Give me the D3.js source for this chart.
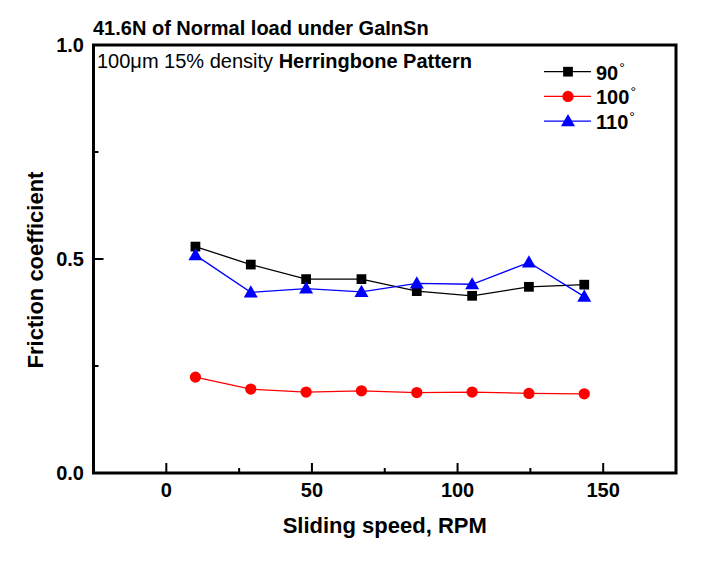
<!DOCTYPE html>
<html><head><meta charset="utf-8">
<script src="https://cdn.jsdelivr.net/npm/d3@7"></script>
<style>body{margin:0;background:#fff}svg{display:block}text{font-family:"Liberation Sans",Arial,sans-serif}</style>
</head><body><svg id="c" width="718" height="562"></svg>
<script>
const speeds = [10, 29, 48, 67, 86, 105, 124.5, 143.5];
const s90  = [0.529, 0.487, 0.453, 0.453, 0.425, 0.414, 0.435, 0.440];
const s100 = [0.224, 0.196, 0.189, 0.192, 0.188, 0.189, 0.186, 0.185];
const s110 = [0.509, 0.422, 0.431, 0.423, 0.443, 0.441, 0.492, 0.412];
const seriesNames = ["90", "100", "110"];
const xTicks = [0, 50, 100, 150];
const yTicks = [0.0, 0.5, 1.0];

const svg = d3.select("#c");
const L = 93.5, R = 676, T = 45, B = 473;
const x = d3.scaleLinear().domain([-25, 175]).range([L, R]);
const y = d3.scaleLinear().domain([0, 1]).range([B, T]);

// frame
svg.append("rect").attr("x", L).attr("y", T).attr("width", R - L).attr("height", B - T)
  .attr("fill", "none").attr("stroke", "#000").attr("stroke-width", 3);

// x ticks (inward)
const xAll = d3.range(0, 176, 25);
svg.append("g").selectAll("line").data(xAll).join("line")
  .attr("x1", d => x(d)).attr("x2", d => x(d))
  .attr("y1", B).attr("y2", d => B - (d % 50 === 0 ? 10 : 5))
  .attr("stroke", "#000").attr("stroke-width", 2);
svg.append("g").selectAll("text").data(xTicks).join("text")
  .attr("x", d => x(d)).attr("y", 497).attr("text-anchor", "middle")
  .attr("font-size", 20).attr("font-weight", "bold").text(d => d);

// y ticks (inward)
const yAll = d3.range(0, 1.01, 0.25);
svg.append("g").selectAll("line").data(yAll).join("line")
  .attr("x1", L).attr("x2", d => L + (Math.abs(d * 2 - Math.round(d * 2)) < 1e-6 ? 10 : 5))
  .attr("y1", d => y(d)).attr("y2", d => y(d))
  .attr("stroke", "#000").attr("stroke-width", 2);
svg.append("g").selectAll("text").data(yTicks).join("text")
  .attr("x", 84).attr("y", d => y(d) + 7).attr("text-anchor", "end")
  .attr("font-size", 20).attr("font-weight", "bold").text(d => d.toFixed(1));

// axis titles
svg.append("text").attr("x", (L + R) / 2).attr("y", 533).attr("text-anchor", "middle")
  .attr("font-size", 22).attr("font-weight", "bold").text("Sliding speed, RPM");
svg.append("text").attr("transform", `translate(43,270) rotate(-90)`)
  .attr("text-anchor", "middle").attr("font-size", 22).attr("font-weight", "bold")
  .text("Friction coefficient");

// titles
svg.append("text").attr("x", 93).attr("y", 35).attr("font-size", 20).attr("font-weight", "bold")
  .text("41.6N of Normal load under GaInSn");
const sub = svg.append("text").attr("x", 97).attr("y", 68).attr("font-size", 20);
sub.append("tspan").text("100\u03bcm 15% density ");
sub.append("tspan").attr("font-weight", "bold").text("Herringbone Pattern");

// series
const colors = ["#000000", "#ff0000", "#0000ff"];
const data = [s90, s100, s110];
const line = d3.line().x(d => x(d[0])).y(d => y(d[1]));
const sqr = d3.symbol().type(d3.symbolSquare).size(95);
const cir = d3.symbol().type(d3.symbolCircle).size(100);
const tri = d3.symbol().type(d3.symbolTriangle).size(85);
const syms = [sqr, cir, tri];

data.forEach((vals, i) => {
  const pts = speeds.map((s, j) => [s, vals[j]]);
  const g = svg.append("g");
  g.append("path").attr("d", line(pts)).attr("fill", "none")
    .attr("stroke", colors[i]).attr("stroke-width", 1.3);
  g.selectAll("path.m").data(pts).join("path").attr("class", "m")
    .attr("transform", d => `translate(${x(d[0])},${y(d[1]) + (i === 2 ? 1 : 0)})`)
    .attr("d", syms[i]()).attr("fill", colors[i]);
});

// legend
const lg = svg.append("g");
seriesNames.forEach((n, i) => {
  const yy = 71.7 + i * 24.7;
  lg.append("line").attr("x1", 544).attr("x2", 591).attr("y1", yy).attr("y2", yy)
    .attr("stroke", colors[i]).attr("stroke-width", 1.3);
  lg.append("path").attr("transform", `translate(568,${yy + (i === 2 ? 1 : 0)})`)
    .attr("d", syms[i]()).attr("fill", colors[i]);
  const t = lg.append("text").attr("x", 596).attr("y", yy + 8).attr("font-size", 20)
    .attr("font-weight", "bold").text(n);
  t.append("tspan").attr("font-size", 14).attr("font-weight", "normal").attr("dx", 1).attr("dy", -7).text("\u00b0");
});
</script></body></html>
